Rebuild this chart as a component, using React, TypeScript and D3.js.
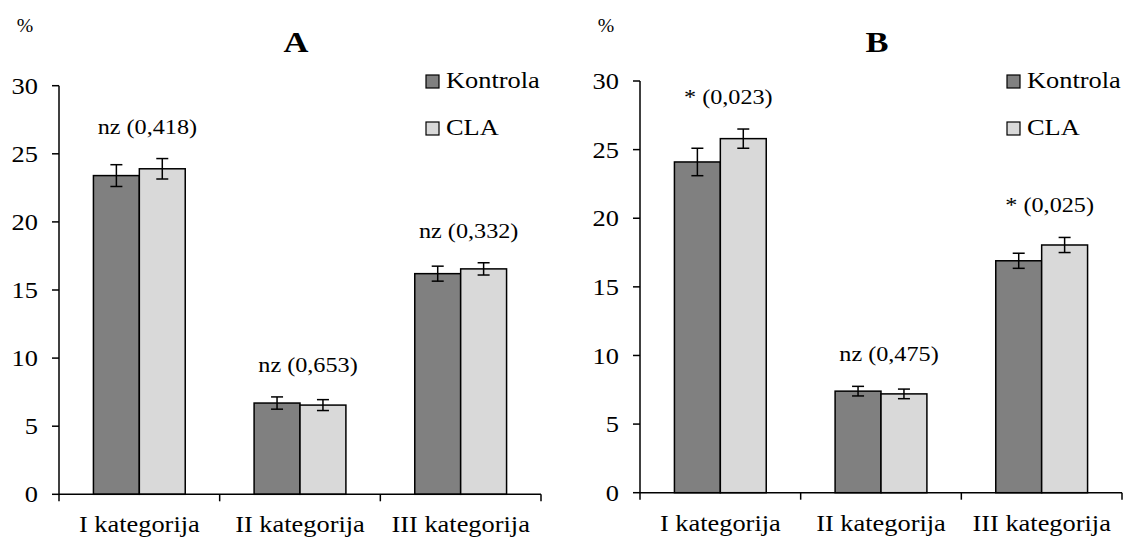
import React from 'react';
import * as d3 from 'd3';

const categories = ['I kategorija', 'II kategorija', 'III kategorija'];
const series = ['Kontrola', 'CLA'];
const yTicks = [0, 5, 10, 15, 20, 25, 30];

// panel A
const kontrolaA = [23.4, 6.7, 16.2];
const claA = [23.9, 6.55, 16.55];
const errKontrolaA = [0.8, 0.45, 0.55];
const errClaA = [0.75, 0.4, 0.45];
const pLabelsA = ['nz (0,418)', 'nz (0,653)', 'nz (0,332)'];

// panel B
const kontrolaB = [24.1, 7.4, 16.9];
const claB = [25.8, 7.2, 18.05];
const errKontrolaB = [1.0, 0.35, 0.55];
const errClaB = [0.7, 0.35, 0.55];
const pLabelsB = ['* (0,023)', 'nz (0,475)', '* (0,025)'];

const colors = ['#808080', '#d9d9d9'];

// the source picture is a bit wider than tall, so text gets stretched
const SX = 1.1;

function T (props) {
  const { x, y, size, anchor, weight, dy, sx, children } = props;
  return (
    <text transform={`translate(${x},${y}) scale(${sx || SX},1)`} dy={dy}
      textAnchor={anchor || 'start'} fontSize={size} fontWeight={weight}>{children}</text>
  );
}

function Panel (props) {
  const { title, left, right, top, bottom, values, errors, labels } = props;

  const x0 = d3.scaleBand().domain(categories).range([left, right]).padding(0);
  const x1 = d3.scaleBand().domain(series).range([0, x0.bandwidth()])
    .paddingInner(0).paddingOuter(0.75);
  const y = d3.scaleLinear().domain([0, 30]).range([bottom, top]);

  const boundaries = categories.map((c) => x0(c)).concat([right]);

  return (
    <g>
      {/* bars */}
      {categories.map((c, i) => (
        <g key={c} transform={`translate(${x0(c)},0)`}>
          {series.map((s, j) => {
            const v = values[j][i];
            const e = errors[j][i];
            const bx = x1(s);
            const cx = bx + x1.bandwidth() / 2;
            return (
              <g key={s}>
                <rect x={bx} y={y(v)} width={x1.bandwidth()} height={y(0) - y(v)}
                  fill={colors[j]} stroke="#000" strokeWidth={1.5} />
                <line x1={cx} x2={cx} y1={y(v + e)} y2={y(v - e)} stroke="#000" strokeWidth={1.5} />
                <line x1={cx - 6} x2={cx + 6} y1={y(v + e)} y2={y(v + e)} stroke="#000" strokeWidth={1.5} />
                <line x1={cx - 6} x2={cx + 6} y1={y(v - e)} y2={y(v - e)} stroke="#000" strokeWidth={1.5} />
              </g>
            );
          })}
          <T x={x0.bandwidth() / 2 + 8}
            y={y(d3.max(series.map((s, j) => values[j][i] + errors[j][i]))) - 25}
            anchor="middle" size={22}>{labels[i]}</T>
        </g>
      ))}

      {/* y axis */}
      <line x1={left} x2={left} y1={top} y2={bottom} stroke="#000" strokeWidth={1.5} />
      {yTicks.map((t) => (
        <g key={t}>
          <line x1={left - 7} x2={left} y1={y(t)} y2={y(t)} stroke="#000" strokeWidth={1.5} />
          <T x={left - 21} y={y(t)} dy="0.34em" anchor="end" size={24}>{t}</T>
        </g>
      ))}

      {/* x axis */}
      <line x1={left} x2={right} y1={bottom} y2={bottom} stroke="#000" strokeWidth={1.5} />
      {boundaries.map((b, i) => (
        <line key={i} x1={b} x2={b} y1={bottom} y2={bottom + 7} stroke="#000" strokeWidth={1.5} />
      ))}
      {categories.map((c) => (
        <T key={c} x={x0(c) + x0.bandwidth() / 2} y={bottom + 38} anchor="middle" size={24}>{c}</T>
      ))}

      {/* titles */}
      <T x={left - 34} y={32} anchor="middle" size={18}>%</T>
      <T x={(left + right) / 2 - 4} y={52} anchor="middle" size={30} weight="bold" sx={1.15}>{title}</T>

      {/* legend */}
      {series.map((s, j) => (
        <g key={s} transform={`translate(${right - 115}, ${75 + j * 47})`}>
          <rect x={0} y={0} width={13} height={13} fill={colors[j]} stroke="#000" strokeWidth={1.2} />
          <T x={20} y={12.5} size={24}>{s}</T>
        </g>
      ))}
    </g>
  );
}

const App = () => {
  return (
    <svg width={1124} height={541}
      style={{ position: 'fixed', left: 0, top: 0, background: '#fff', fontFamily: "'Liberation Serif', 'Times New Roman', serif" }}>
      <Panel title="A" left={59} right={541} top={85.7} bottom={494.3}
        values={[kontrolaA, claA]} errors={[errKontrolaA, errClaA]} labels={pLabelsA} />
      <Panel title="B" left={640} right={1122} top={81} bottom={492.7}
        values={[kontrolaB, claB]} errors={[errKontrolaB, errClaB]} labels={pLabelsB} />
    </svg>
  );
}

export default App;
